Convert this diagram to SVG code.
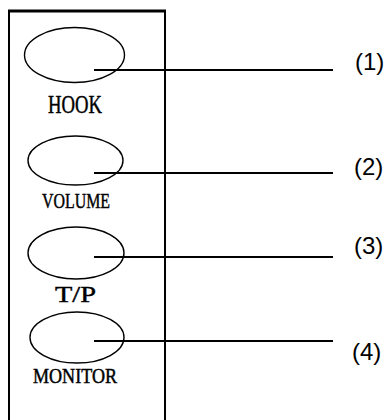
<svg xmlns="http://www.w3.org/2000/svg" width="388" height="420" viewBox="0 0 388 420">
<style>
.btn{fill:none;stroke:#000;stroke-width:1.4}
.lbl{font-family:"Liberation Serif","Times New Roman",serif;fill:#000;stroke:#000;stroke-width:0.45;text-anchor:middle}
.num{font-family:"Liberation Sans",Arial,sans-serif;font-size:24px;fill:#000}
.ln{stroke:#000;stroke-width:2;fill:none}
</style>
<rect width="388" height="420" fill="#fff"/>
<g id="panel">
<path d="M9,421 V11 H165 V421" fill="none" stroke="#000" stroke-width="2"/>
<line x1="8" y1="11" x2="166" y2="11" stroke="#000" stroke-width="3"/>
</g>
<g id="hook">
<ellipse class="btn" cx="74.5" cy="55" rx="50" ry="27.5"/>
<text class="lbl" x="75" y="113" font-size="26" textLength="54" lengthAdjust="spacingAndGlyphs">HOOK</text>
</g>
<g id="volume">
<ellipse class="btn" cx="75.5" cy="160.5" rx="47.5" ry="24.5"/>
<text class="lbl" x="76" y="208" font-size="21" textLength="68" lengthAdjust="spacingAndGlyphs">VOLUME</text>
</g>
<g id="tp">
<ellipse class="btn" cx="76" cy="253" rx="48" ry="26"/>
<text class="lbl" x="75.5" y="302" font-size="24" textLength="41" lengthAdjust="spacingAndGlyphs">T/P</text>
</g>
<g id="monitor">
<ellipse class="btn" cx="77" cy="337.5" rx="47" ry="25.5"/>
<text class="lbl" x="75" y="383" font-size="20" textLength="84" lengthAdjust="spacingAndGlyphs">MONITOR</text>
</g>
<g id="connectors">
<line class="ln" x1="94" y1="70" x2="333" y2="70"/>
<line class="ln" x1="94" y1="173" x2="333" y2="173"/>
<line class="ln" x1="94" y1="257" x2="333" y2="257"/>
<line class="ln" x1="94" y1="341" x2="333" y2="341"/>
</g>
<g id="labels">
<text class="num" x="355" y="70">(1)</text>
<text class="num" x="354" y="175">(2)</text>
<text class="num" x="354" y="254">(3)</text>
<text class="num" x="352" y="360">(4)</text>
</g>
</svg>
